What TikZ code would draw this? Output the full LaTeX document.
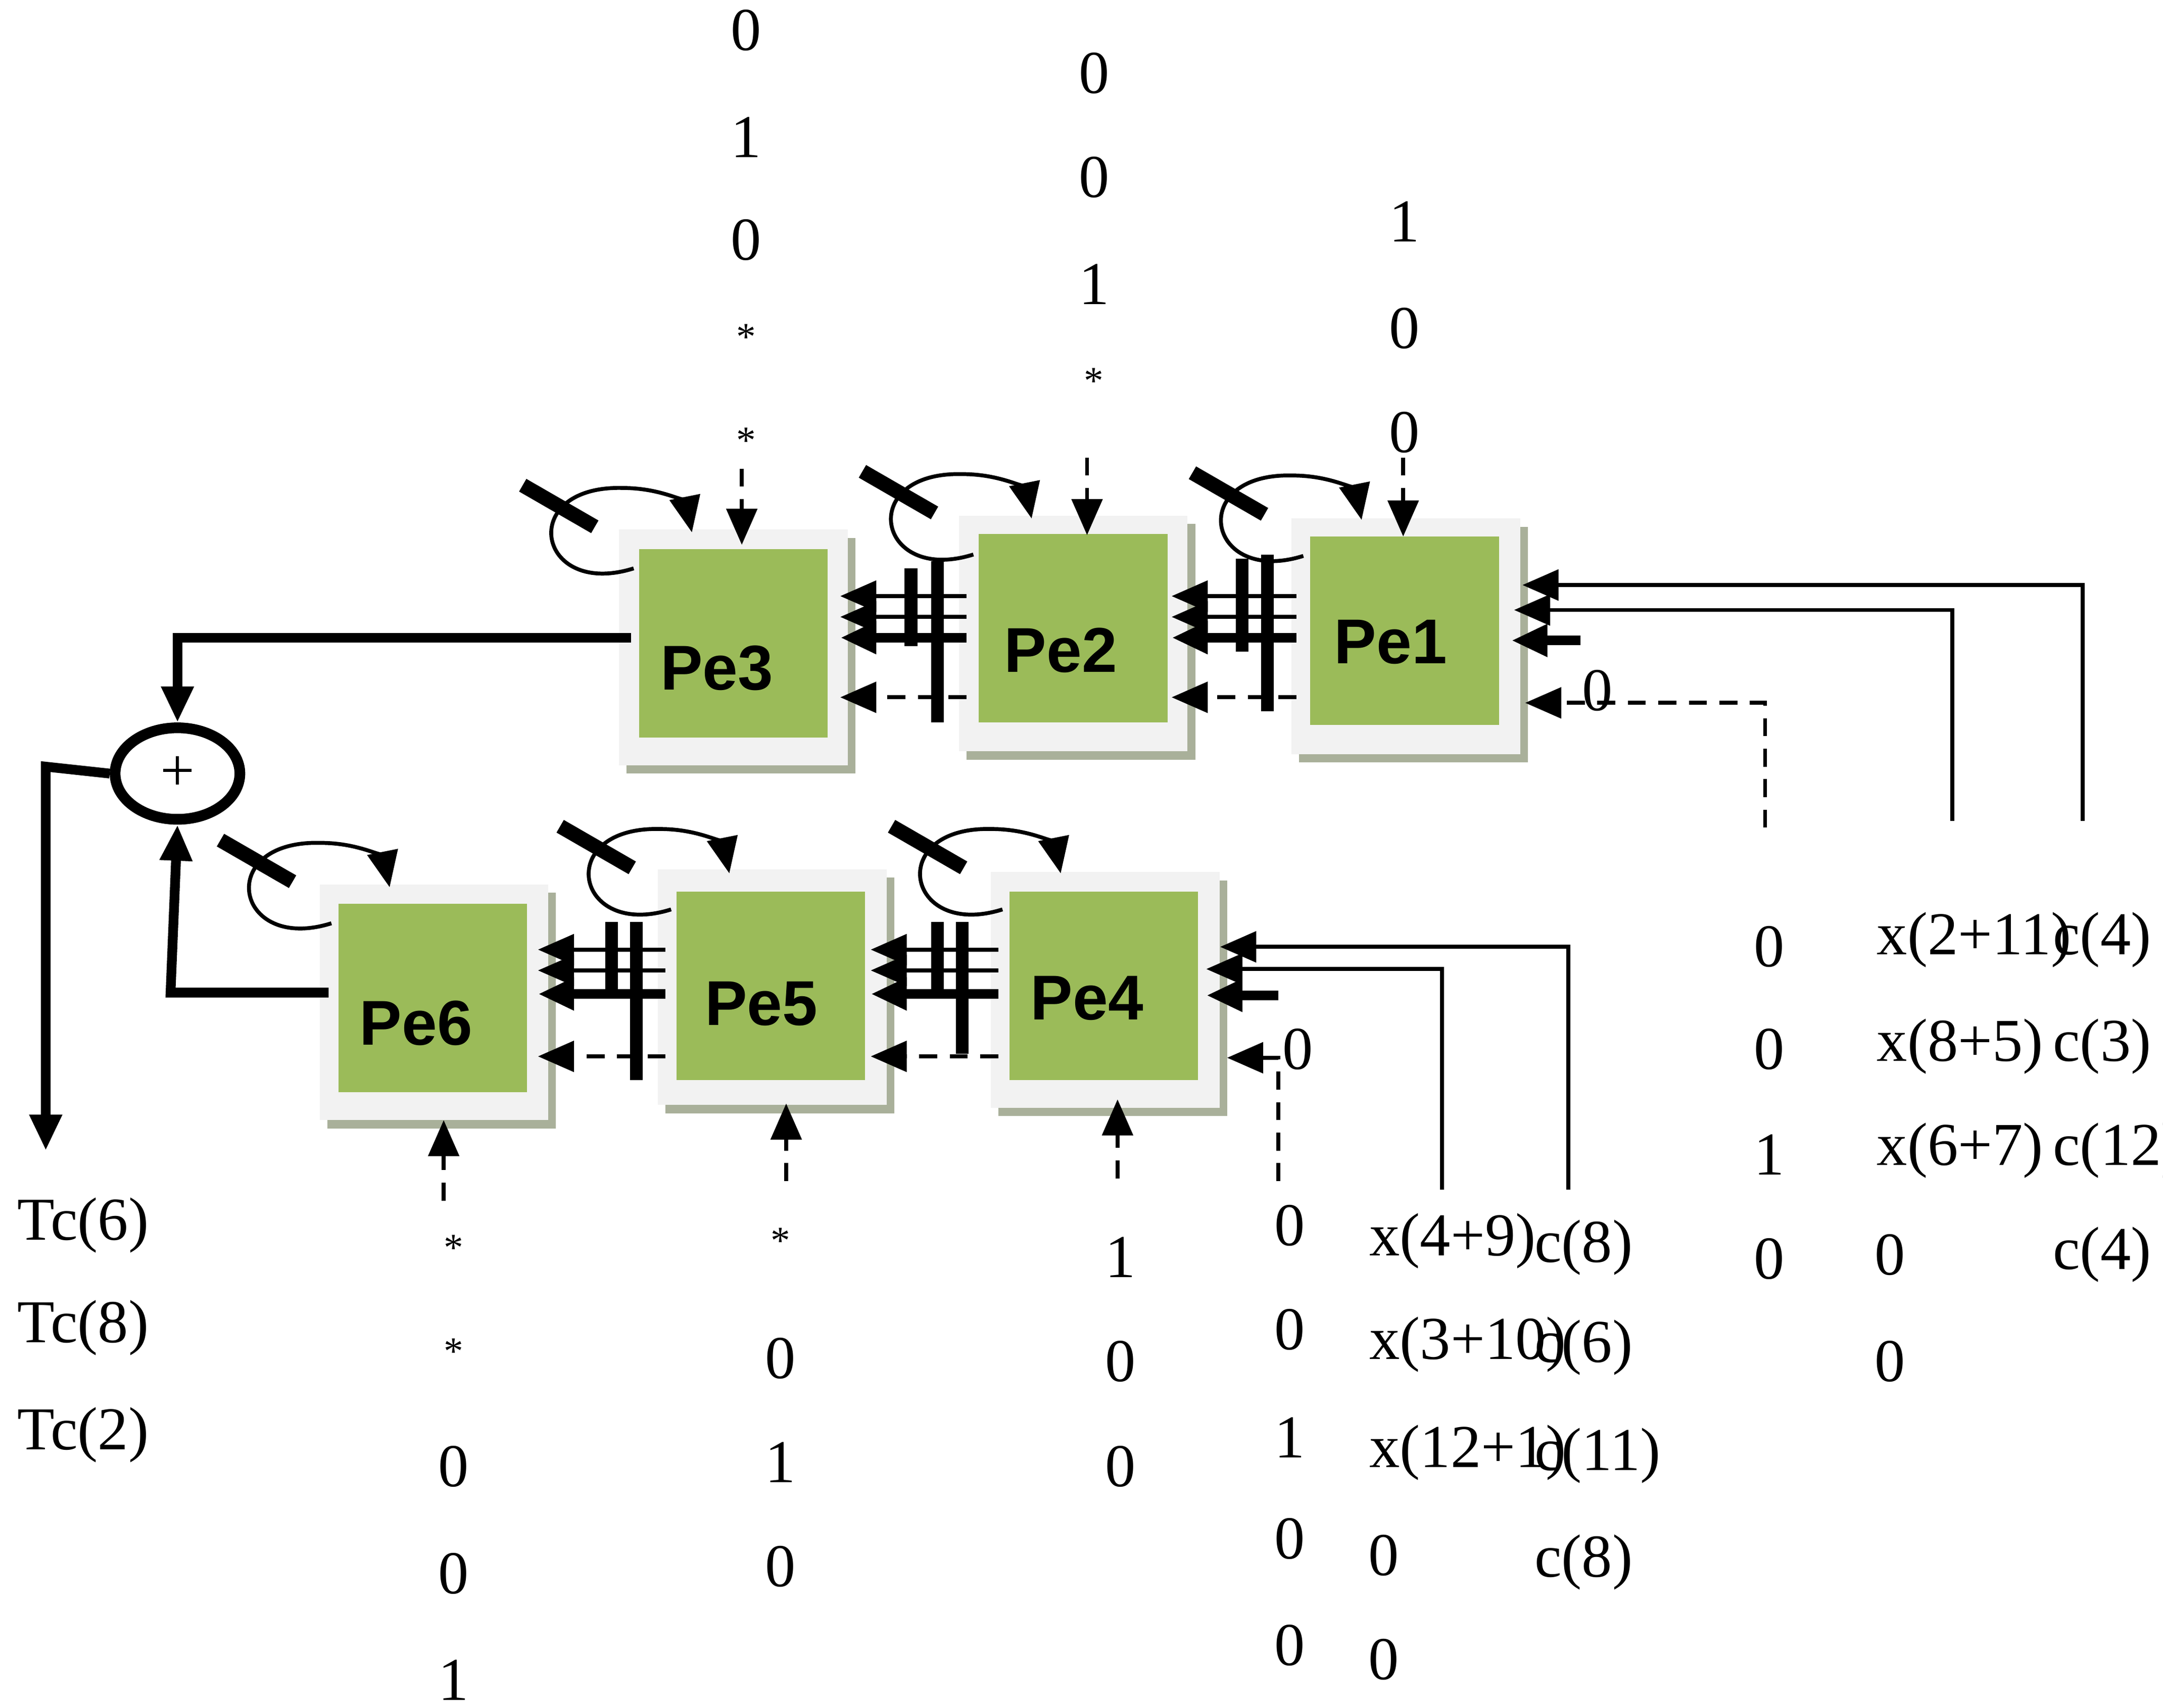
\documentclass[tikz,border=0pt]{standalone}
\usepackage{fontspec}
\setmainfont{Liberation Serif}
\newfontfamily\pefont{Liberation Sans}
\usetikzlibrary{arrows.meta,shapes.geometric}
\definecolor{pegreen}{HTML}{9BBB59}
\definecolor{peshadow}{HTML}{A9B09A}
\begin{document}
\begin{tikzpicture}[x=0.1mm,y=-0.1mm,
  txt/.style={font=\fontsize{12.5}{14}\selectfont,inner sep=0pt},
  txl/.style={txt,anchor=west},
  outer/.style={draw=none,fill=gray!10,minimum width=16.5mm,minimum height=17mm,inner sep=0pt},
  shad/.style={fill=peshadow,draw=none},
  grn/.style={fill=pegreen,draw=none,minimum width=13.6mm,minimum height=13.6mm,inner sep=0pt},
  lbl/.style={font=\pefont\bfseries\fontsize{13}{15}\selectfont,inner sep=0pt},
  thin/.style={line width=0.8pt},
  thk/.style={line width=2pt},
  bar/.style={line width=2.6pt},
  ar/.style={-{Triangle[length=2.6mm,width=2.2mm]}},
  dsh/.style={thin,dash pattern=on 1.3mm off 0.9mm},
]
\useasboundingbox (0,0) rectangle (1560,1232);
\newcommand\blk[8]{%
  \fill[shad] (#2-77,#3-79) rectangle (#2+88,#3+91);
  \node[outer] (#1o) at (#2,#3) {};
  \node[grn] (#1) at (#4,#5) {};
  \node[lbl] (#1t) at (#6,#7) {#8};}
\blk{pe3}{529}{467}{529}{464}{517}{482}{Pe3}
\blk{pe2}{774}{457}{774}{453}{765}{469}{Pe2}
\blk{pe1}{1014}{459}{1013}{455}{1003}{463}{Pe1}
\blk{pe6}{313}{723}{312}{720}{300}{738}{Pe6}
\blk{pe5}{557}{712}{556}{711}{549}{724}{Pe5}
\blk{pe4}{797}{714}{796}{711}{784}{720}{Pe4}

% loops with slash
\newcommand\lp[2]{%
  \draw[thin,ar] (#1+10,#2+28) .. controls (#1-60,#2+50) and (#1-75,#2-32) .. (#1+2,#2-30) .. controls (#1+32,#2-30) and (#1+48,#2-18) .. (#1+52,#2+2);
  \draw[line width=3pt] (#1-70,#2-32) -- (#1-18,#2-2);}
\lp{447}{382}\lp{692}{372}\lp{930}{373}
\lp{229}{638}\lp{474}{628}\lp{713}{628}

% inter-block buses
\newcommand\bus[6]{%
  \draw[thin,ar] (#1,#3) -- (#2,#3);
  \draw[thin,ar] (#1,#4) -- (#2,#4);
  \draw[thk,ar] (#1,#5) -- (#2,#5);
  \draw[dsh,ar] (#1,#6) -- (#2,#6);}
\bus{697}{606}{430}{445}{460}{503}
\draw[bar] (657,410) -- (657,466); \draw[bar] (676,405) -- (676,521);
\bus{935}{845}{430}{445}{460}{503}
\draw[bar] (896,403) -- (896,470); \draw[bar] (914,400) -- (914,513);
\bus{480}{388}{685}{700}{717}{762}
\draw[bar] (441,665) -- (441,718); \draw[bar] (459,665) -- (459,779);
\bus{720}{628}{685}{700}{717}{762}
\draw[bar] (676,665) -- (676,718); \draw[bar] (694,665) -- (694,760);

% right inputs to Pe1
\coordinate (r1) at (1502,592); \coordinate (r2) at (1408,592); \coordinate (r3) at (1273,597);
\draw[thin,ar] (r1) -- (1502,422) -- (1098,422);
\draw[thin,ar] (r2) -- (1408,440) -- (1092,440);
\draw[thk,ar] (1140,462) -- (1090,462);
\draw[dsh,ar] (r3) -- (1273,507) -- (1100,507);
\node[txt] at (1152,498) {0};
% right inputs to Pe4
\coordinate (s1) at (1131,858); \coordinate (s2) at (1040,858); \coordinate (s3) at (922,852);
\draw[thin,ar] (s1) -- (1131,683) -- (880,683);
\draw[thin,ar] (s2) -- (1040,699) -- (870,699);
\draw[thk,ar] (922,718) -- (870,718);
\draw[dsh,ar] (s3) -- (922,763) -- (885,763);
\node[txt] at (936,757) {0};

% vertical dashed feeds
\draw[dsh,ar] (535,338) -- (535,393);
\draw[dsh,ar] (784,330) -- (784,386);
\draw[dsh,ar] (1012,330) -- (1012,387);
\draw[dsh,ar] (320,866) -- (320,808);
\draw[dsh,ar] (567,852) -- (567,796);
\draw[dsh,ar] (806,850) -- (806,793);

% adder
\node[draw,line width=2.2pt,ellipse,minimum width=9mm,minimum height=6.6mm,inner sep=0pt,txt] (add) at (128,558) {+};
\draw[thk,ar] (455,460) -- (128,460) -- (add.north);
\draw[thk,ar] (237,716) -- (123,716) -- (add.south);
\coordinate (out) at (33,830);
\draw[thk,ar] (add.west) -- (33,553) -- (out);

% number columns
\newcommand\st{{\fontsize{8}{9}\selectfont *}}
\foreach \t/\y in {0/22,1/99,0/173,\st/243,\st/318} \node[txt] at (538,\y) {\t};
\foreach \t/\y in {0/53,0/128,1/205,\st/275} \node[txt] at (789,\y) {\t};
\foreach \t/\y in {1/160,0/237,0/312} \node[txt] at (1013,\y) {\t};
\foreach \t/\y in {0/683,0/757,1/833,0/908} \node[txt] at (1276,\y) {\t};
\foreach \t/\y in {x(2+11)/678,x(8+5)/755,x(6+7)/830} \node[txl] at (1353,\y) {\t};
\node[txt] at (1363,905) {0}; \node[txt] at (1363,982) {0};
\foreach \t/\y in {c(4)/678,c(3)/755,c(12)/830,c(4)/905} \node[txl] at (1480,\y) {\t};
\foreach \t/\y in {0/884,0/959,1/1037,0/1110,0/1187} \node[txt] at (930,\y) {\t};
\foreach \t/\y in {x(4+9)/895,x(3+10)/970,x(12+1)/1048} \node[txl] at (987,\y) {\t};
\node[txt] at (998,1122) {0}; \node[txt] at (998,1197) {0};
\foreach \t/\y in {c(8)/900,c(6)/972,c(11)/1050,c(8)/1127} \node[txl] at (1106,\y) {\t};
\foreach \t/\y in {1/907,0/982,0/1058} \node[txt] at (808,\y) {\t};
\foreach \t/\y in {\st/895,0/980,1/1055,0/1130} \node[txt] at (563,\y) {\t};
\foreach \t/\y in {\st/900,\st/975,0/1058,0/1135,1/1212} \node[txt] at (327,\y) {\t};
\foreach \t/\y in {Tc(6)/884,Tc(8)/958,Tc(2)/1035} \node[txl] at (12,\y) {\t};
\end{tikzpicture}
\end{document}
